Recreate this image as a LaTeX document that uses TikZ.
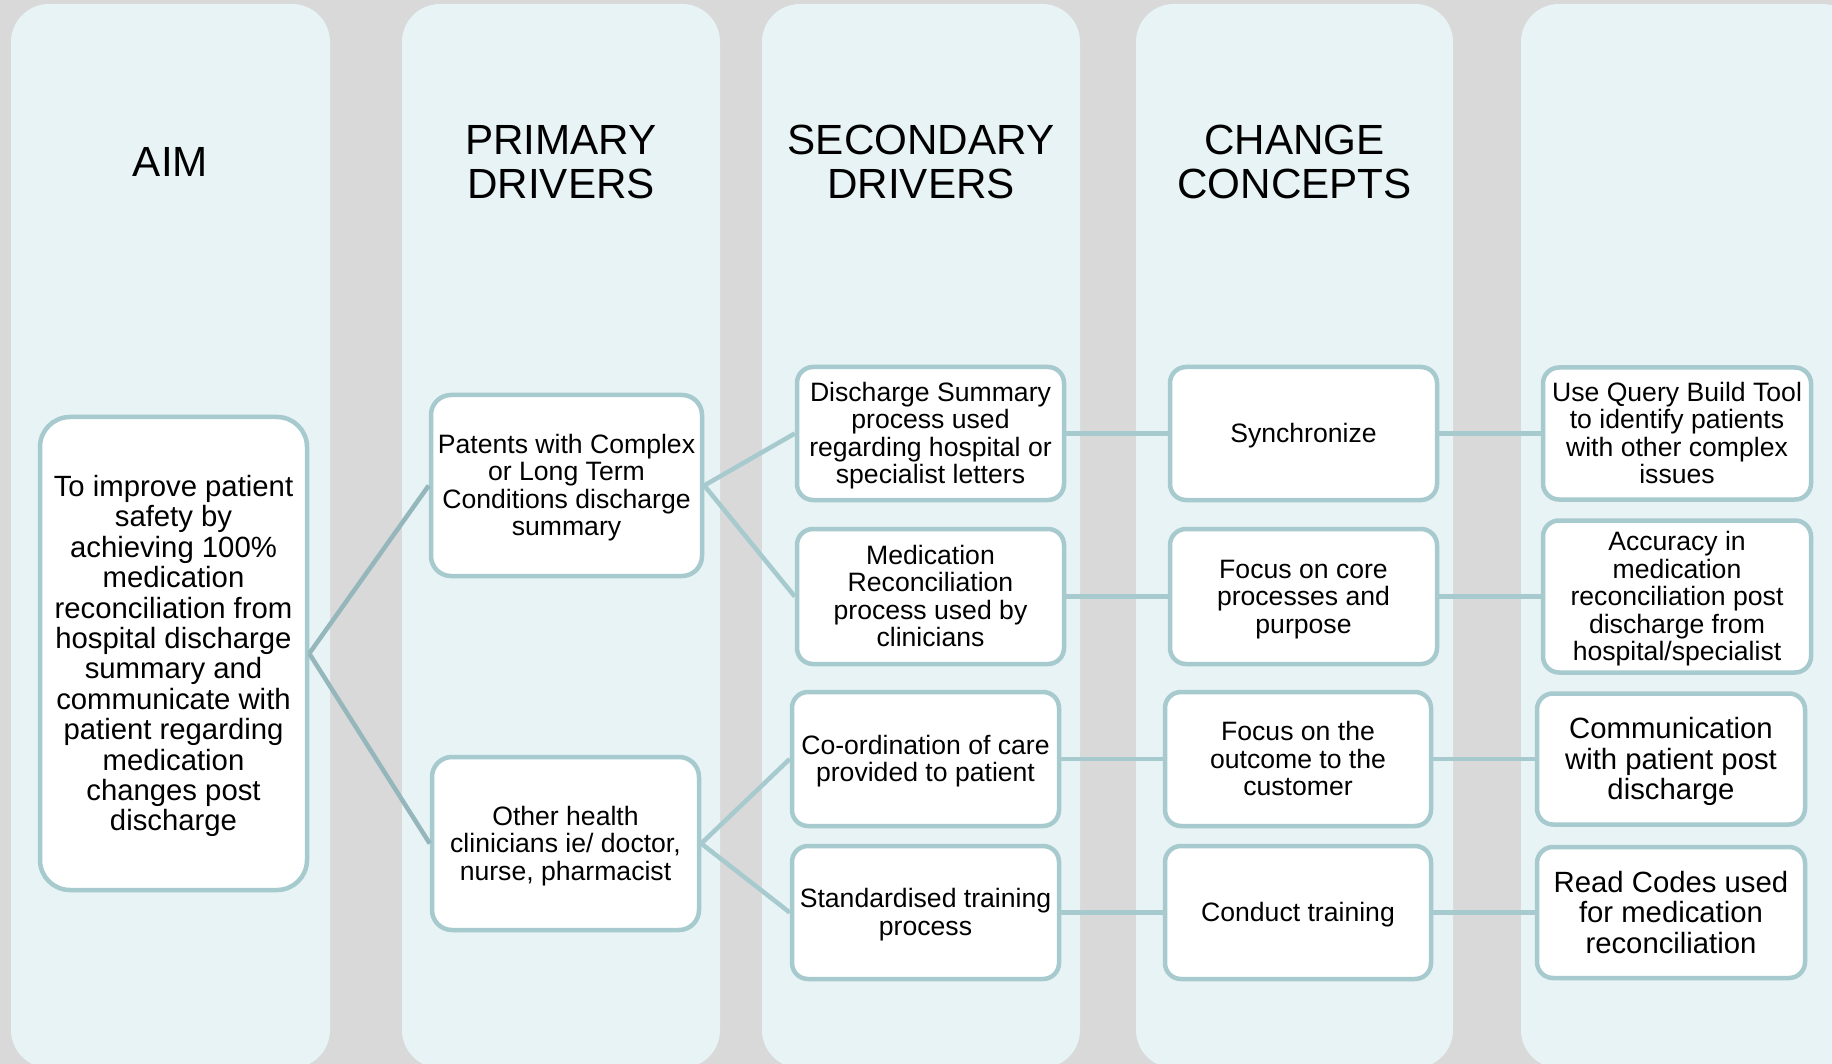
\documentclass[tikz,border=0pt]{standalone}
\usepackage{fontspec}
\setmainfont{Liberation Sans}
\definecolor{bg}{HTML}{D9D9D9}
\definecolor{colfill}{HTML}{E7F3F5}
\definecolor{edge}{HTML}{A6CACD}
\definecolor{aimline}{HTML}{95B6BA}
\newcommand{\tstr}{\rule{0pt}{0.905em}}
\newcommand{\bstr}{\rule[-0.212em]{0pt}{0pt}}
\begin{document}
\begin{tikzpicture}[x=1pt,y=-1pt,
  colbox/.style={fill=colfill, draw=none, rounded corners=38},
  box/.style={draw=edge, line width=4.5, fill=white, rounded corners=16, align=center, inner sep=0pt,
    font=\fontsize{26.6}{27.5}\selectfont},
  big/.style={font=\fontsize{29.3}{30.4}\selectfont},
  head/.style={align=center, font=\fontsize{42.2}{44}\selectfont},
  link/.style={draw=edge, line width=4.5},
  aimlink/.style={draw=aimline, line width=4.5}
]
\useasboundingbox (0,0) rectangle (1832,1064);
\fill[bg] (0,0) rectangle (1832,1064);
\begin{scope}
\clip (0,0) rectangle (1832,1064);
\fill[colbox] (11,4) rectangle (330,1068);
\fill[colbox] (402,4) rectangle (720,1068);
\fill[colbox] (762,4) rectangle (1080,1068);
\fill[colbox] (1136,4) rectangle (1453,1068);
\fill[colbox] (1521,4) rectangle (1860,1068);
\end{scope}

\node[head] (h1) at (170.5,162) {AIM};
\node[head] (h2) at (561,162) {PRIMARY\\DRIVERS};
\node[head] (h3) at (921,162) {SECONDARY\\DRIVERS};
\node[head] (h4) at (1294.5,162) {CHANGE\\CONCEPTS};

\node[box, big, rounded corners=30, minimum width=267, minimum height=473] (aim) at (173.5,653.5)
  {\tstr To improve patient\\safety by\\achieving 100\%\\medication\\reconciliation from\\hospital discharge\\summary and\\communicate with\\patient regarding\\medication\\changes post\\discharge\bstr};

\node[box, rounded corners=20, minimum width=271, minimum height=181] (p1) at (566.5,485.5)
  {\tstr Patents with Complex\\or Long Term\\Conditions discharge\\summary\bstr};
\node[box, rounded corners=20, minimum width=267, minimum height=173] (p2) at (565.5,843.5)
  {\tstr Other health\\clinicians ie/ doctor,\\nurse, pharmacist\bstr};

\node[box, minimum width=267, minimum height=133] (s1) at (930.5,433.5)
  {\tstr Discharge Summary\\process used\\regarding hospital or\\specialist letters\bstr};
\node[box, minimum width=267, minimum height=135] (s2) at (930.5,596.5)
  {\tstr Medication\\Reconciliation\\process used by\\clinicians\bstr};
\node[box, minimum width=267, minimum height=134] (s3) at (925.5,759)
  {\tstr Co-ordination of care\\provided to patient\bstr};
\node[box, minimum width=267, minimum height=133] (s4) at (925.5,912.5)
  {\tstr Standardised training\\process\bstr};

\node[box, minimum width=267, minimum height=133] (c1) at (1303.5,433.5) {\tstr Synchronize\bstr};
\node[box, minimum width=267, minimum height=135] (c2) at (1303.5,596.5)
  {\tstr Focus on core\\processes and\\purpose\bstr};
\node[box, minimum width=266, minimum height=134] (c3) at (1298,759)
  {\tstr Focus on the\\outcome to the\\customer\bstr};
\node[box, minimum width=266, minimum height=133] (c4) at (1298,912.5) {\tstr Conduct training\bstr};

\node[box, minimum width=268, minimum height=132] (l1) at (1677,433.5)
  {\tstr Use Query Build Tool\\to identify patients\\with other complex\\issues\bstr};
\node[box, minimum width=268, minimum height=152] (l2) at (1677,596.5)
  {\tstr Accuracy in\\medication\\reconciliation post\\discharge from\\hospital/specialist\bstr};
\node[box, big, minimum width=268, minimum height=131] (l3) at (1671,759)
  {\tstr Communication\\with patient post\\discharge\bstr};
\node[box, big, minimum width=268, minimum height=131] (l4) at (1671,912.5)
  {\tstr Read Codes used\\for medication\\reconciliation\bstr};

\draw[aimlink] (aim.east) -- (p1.west);
\draw[aimlink] (aim.east) -- (p2.west);
\draw[link] (p1.east) -- (s1.west);
\draw[link] (p1.east) -- (s2.west);
\draw[link] (p2.east) -- (s3.west);
\draw[link] (p2.east) -- (s4.west);
\draw[link] (s1.east) -- (c1.west);
\draw[link] (s2.east) -- (c2.west);
\draw[link] (s3.east) -- (c3.west);
\draw[link] (s4.east) -- (c4.west);
\draw[link] (c1.east) -- (l1.west);
\draw[link] (c2.east) -- (l2.west);
\draw[link] (c3.east) -- (l3.west);
\draw[link] (c4.east) -- (l4.west);
\end{tikzpicture}
\end{document}
